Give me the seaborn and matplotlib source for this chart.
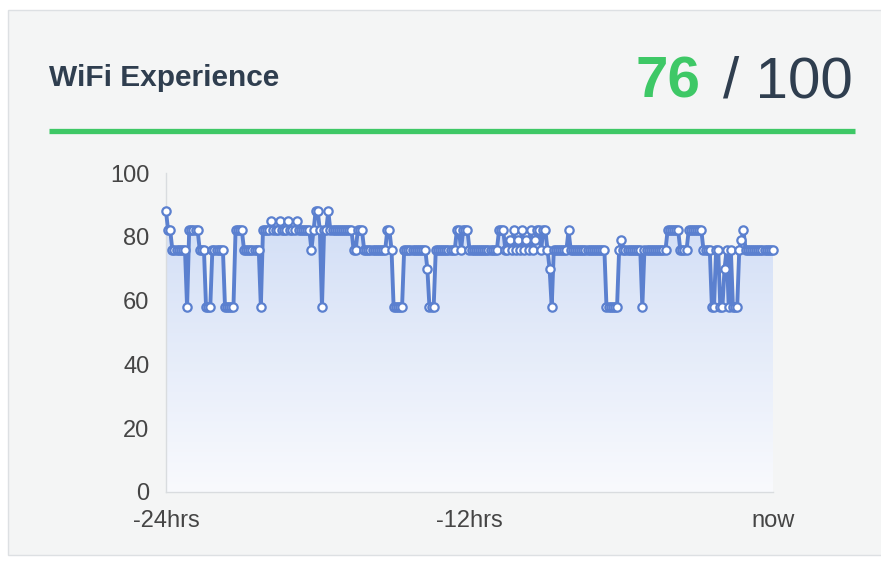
import numpy as np
import pandas as pd
import matplotlib
matplotlib.use("Agg")
import matplotlib.pyplot as plt
from matplotlib.patches import Rectangle
from matplotlib.colors import LinearSegmentedColormap
from matplotlib.lines import Line2D
import seaborn as sns

# WiFi experience score sampled every 5 minutes over the last 24 hours
score = [
    88, 82, 82, 76, 76, 76, 76, 76, 76, 76, 58, 82,
    82, 82, 82, 82, 76, 76, 76, 58, 58, 58, 76, 76,
    76, 76, 76, 76, 58, 58, 58, 58, 58, 82, 82, 82,
    82, 76, 76, 76, 76, 76, 76, 76, 76, 58, 82, 82,
    82, 82, 85, 82, 82, 82, 85, 82, 82, 82, 85, 82,
    82, 82, 85, 82, 82, 82, 82, 82, 82, 76, 82, 88,
    88, 82, 58, 82, 82, 88, 82, 82, 82, 82, 82, 82,
    82, 82, 82, 82, 82, 76, 76, 82, 82, 82, 76, 76,
    76, 76, 76, 76, 76, 76, 76, 76, 76, 82, 82, 76,
    58, 58, 58, 58, 58, 76, 76, 76, 76, 76, 76, 76,
    76, 76, 76, 76, 70, 58, 58, 58, 76, 76, 76, 76,
    76, 76, 76, 76, 76, 76, 82, 82, 76, 82, 82, 82,
    76, 76, 76, 76, 76, 76, 76, 76, 76, 76, 76, 76,
    76, 76, 82, 82, 82, 76, 76, 79, 76, 82, 76, 79,
    76, 82, 76, 79, 76, 82, 76, 79, 82, 82, 76, 82,
    82, 76, 70, 58, 76, 76, 76, 76, 76, 76, 76, 82,
    76, 76, 76, 76, 76, 76, 76, 76, 76, 76, 76, 76,
    76, 76, 76, 76, 76, 58, 58, 58, 58, 58, 58, 76,
    79, 76, 76, 76, 76, 76, 76, 76, 76, 76, 58, 76,
    76, 76, 76, 76, 76, 76, 76, 76, 76, 76, 82, 82,
    82, 82, 82, 82, 76, 76, 76, 76, 82, 82, 82, 82,
    82, 82, 82, 76, 76, 76, 76, 58, 58, 76, 76, 58,
    58, 70, 76, 58, 76, 58, 58, 58, 76, 79, 82, 76,
    76, 76, 76, 76, 76, 76, 76, 76, 76, 76, 76, 76,
    76,
]
hours = np.arange(len(score)) * 5 / 60 - 24

current_score = 76
max_score = 100
x_ticks = [-24, -12, 0]
x_tick_labels = ["-24hrs", "-12hrs", "now"]
y_ticks = [0, 20, 40, 60, 80, 100]

df = pd.DataFrame({"hours": hours, "score": score})

GREEN = "#3ec866"
DARK = "#2f3e4f"
BLUE = "#5b80cf"
CARD = "#f4f5f5"

sns.set_theme(style="white")
plt.rcParams["font.family"] = ["Liberation Sans", "DejaVu Sans"]

W, H = 881, 563
fig = plt.figure(figsize=(W / 100, H / 100), dpi=100)
fig.patch.set_facecolor("white")

# card panel
fig.patches.append(Rectangle((8 / W, 1 - 555 / H), 1, (555 - 10) / H,
                             transform=fig.transFigure, facecolor=CARD,
                             edgecolor="#dde0e3", linewidth=1.0, zorder=-5))

# header
fig.text(49 / W, 1 - 86 / H, "WiFi Experience", fontsize=21.5, fontweight="bold",
         color=DARK, ha="left", va="baseline")
fig.text(636 / W, 1 - 97 / H, f"{current_score}", fontsize=42, fontweight="bold",
         color=GREEN, ha="left", va="baseline")
fig.text(853 / W, 1 - 97 / H, f"/ {max_score}", fontsize=42, color=DARK,
         ha="right", va="baseline")
fig.add_artist(Line2D([49 / W, 855 / W], [1 - 131 / H, 1 - 131 / H],
                      transform=fig.transFigure, color=GREEN, linewidth=3.8,
                      solid_capstyle="butt"))

ax = fig.add_axes([166 / W, 1 - 492 / H, (773 - 166) / W, (492 - 173) / H])
ax.set_zorder(5)
ax.set_facecolor("none")

# gradient area under the curve
fill = ax.fill_between(df["hours"], df["score"], 0, facecolor="none",
                       edgecolor="none")
grad = LinearSegmentedColormap.from_list("area", ["#f9fafd", "#ccdaf5"])
img = ax.imshow(np.linspace(0, 1, 256).reshape(-1, 1), cmap=grad,
                aspect="auto", origin="lower", extent=[-24, 0, 0, 100],
                zorder=1)
img.set_clip_path(fill.get_paths()[0], transform=ax.transData)

sns.lineplot(data=df, x="hours", y="score", ax=ax, color=BLUE, linewidth=2.8,
             marker="o", markersize=6, markerfacecolor="white",
             markeredgecolor=BLUE, markeredgewidth=1.6, clip_on=False,
             zorder=3)

ax.set_xlim(-24, 0)
ax.set_ylim(0, 100)
ax.set_xticks(x_ticks)
ax.set_xticklabels(x_tick_labels)
ax.set_yticks(y_ticks)
ax.set_xlabel("")
ax.set_ylabel("")
ax.tick_params(axis="both", length=0, labelsize=17, labelcolor="#454545")
ax.tick_params(axis="y", pad=12)
ax.tick_params(axis="x", pad=13)
for side in ["top", "right"]:
    ax.spines[side].set_visible(False)
for side in ["left", "bottom"]:
    ax.spines[side].set_color("#d9dcdf")
    ax.spines[side].set_linewidth(1.0)

fig.savefig("out.png", dpi=100, facecolor=fig.get_facecolor())
